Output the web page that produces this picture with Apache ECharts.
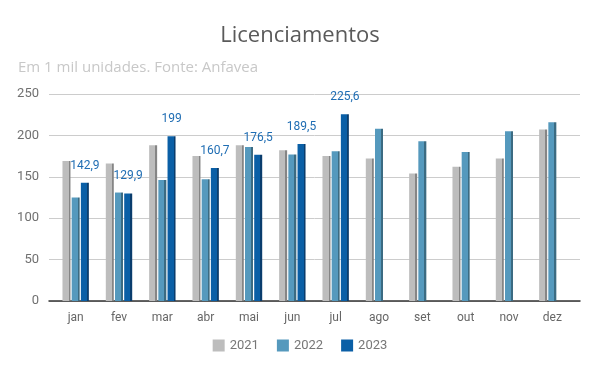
<!DOCTYPE html>
<html>
<head>
<meta charset="utf-8">
<script src="https://cdn.jsdelivr.net/npm/echarts@6/dist/echarts.min.js"></script>
<style>html,body{margin:0;padding:0;background:#fff}#c{width:600px;height:371px}</style>
</head>
<body>
<div id="c"></div>
<script>
const categories = ['jan','fev','mar','abr','mai','jun','jul','ago','set','out','nov','dez'];
const seriesNames = ['2021','2022','2023'];
const values2021 = [169,166,188,175,188,182,175,172,154,162,172,207];
const values2022 = [125,131,146,147,186,177,181,208,193,180,205,216];
const values2023 = [142.9,129.9,199,160.7,176.5,189.5,225.6,null,null,null,null,null];
const yTicks = [0,50,100,150,200,250];

const chart = echarts.init(document.getElementById('c'));
function grad(front, side){
  return new echarts.graphic.LinearGradient(0,0,1,0,[
    {offset:0,color:front},{offset:0.76,color:front},
    {offset:0.76,color:side},{offset:1,color:side}
  ]);
}
const colors = ['#bdbdbd','#5599bd','#0a5fa6'];
const sides = ['#858585','#3b6b82','#0a3d6d'];
const data = [values2021, values2022, values2023];
chart.setOption({
  animation:false,
  color: colors,
  title:[
    {text:'Licenciamentos', left:'center', top:20, textStyle:{fontFamily:'Open Sans', fontSize:22, fontWeight:'normal', color:'#5a5a5a'}},
    {text:'Em 1 mil unidades. Fonte: Anfavea', left:13, top:55, textStyle:{fontFamily:'Open Sans', fontSize:15, fontWeight:'normal', color:'#c8c8c8'}}
  ],
  legend:{
    data: seriesNames.map((n,i)=>({name:n, itemStyle:{color:colors[i]}})),
    bottom:14, left:'center', icon:'rect', itemWidth:12, itemHeight:12, itemGap:18,
    textStyle:{fontFamily:'Roboto', fontSize:13, color:'#777'}
  },
  grid:[
    {left:54, right:26, top:94, bottom:70},
    {left:49, right:20, top:94, bottom:70}
  ],
  xAxis:[
    {
      type:'category', data:categories, gridIndex:0,
      axisLine:{show:false},
      axisTick:{show:false},
      axisLabel:{fontFamily:'Roboto', fontSize:12, color:'#666', margin:11}
    },
    {
      type:'value', gridIndex:1, min:0, max:1,
      axisLine:{show:true, onZero:false, lineStyle:{color:'#333', width:1.5}},
      axisTick:{show:false}, axisLabel:{show:false}, splitLine:{show:false}
    }
  ],
  yAxis:[
    {
      type:'value', gridIndex:0, min:yTicks[0], max:yTicks[yTicks.length-1], interval:50,
      axisLine:{show:false}, axisTick:{show:false},
      axisLabel:{fontFamily:'Roboto', fontSize:13, color:'#707070', margin:15},
      splitLine:{show:false}
    },
    {
      type:'value', gridIndex:1, min:yTicks[0], max:yTicks[yTicks.length-1], interval:50,
      axisLine:{show:false}, axisTick:{show:false}, axisLabel:{show:false},
      splitLine:{lineStyle:{color:'#cccccc'}}
    }
  ],
  series: seriesNames.map((n,i)=>({
    name:n, type:'bar', data:data[i], barWidth:8, barGap:'15%', z:3,
    xAxisIndex:0, yAxisIndex:0,
    itemStyle:{color:grad(colors[i], sides[i])},
    label: i===2 ? {show:true, position:'top', distance:11, fontFamily:'Roboto', fontSize:12, color:'#1f6db3',
      formatter: p => String(p.value).replace('.',',')} : {show:false}
  }))
});
</script>
</body>
</html>
